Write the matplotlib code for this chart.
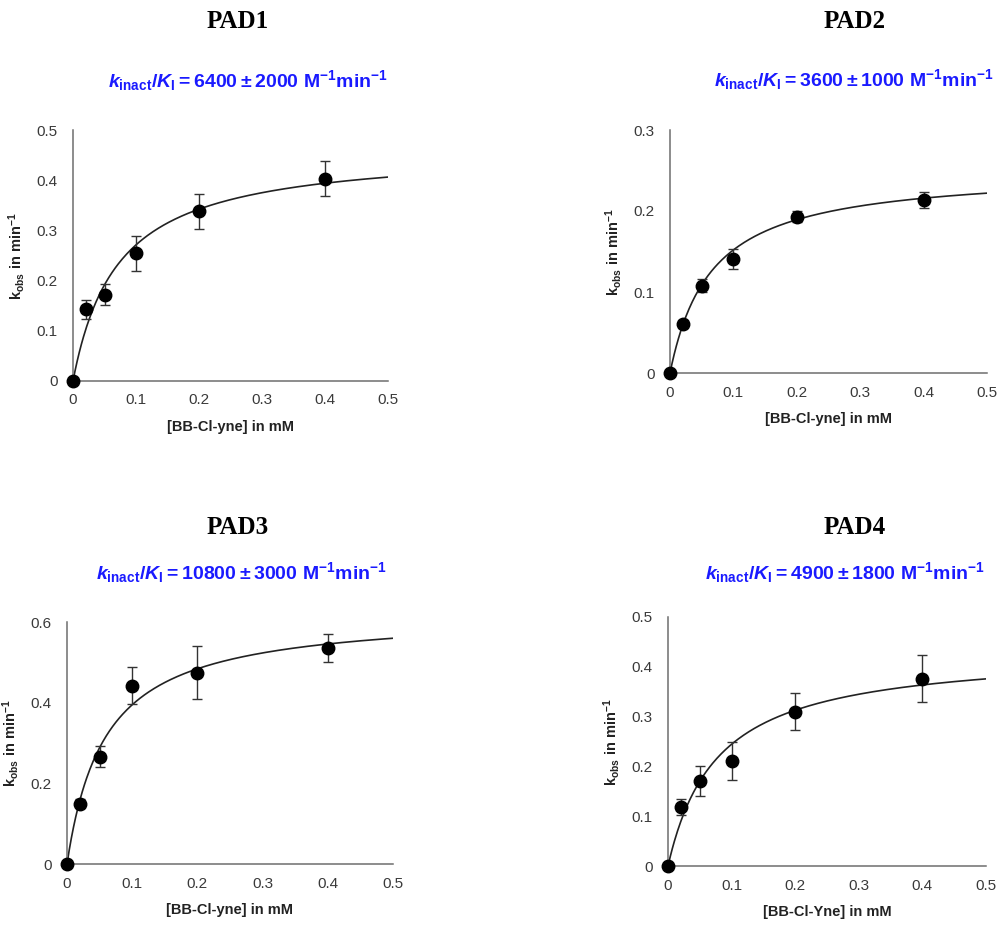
import numpy as np
import matplotlib

matplotlib.use("Agg")
import matplotlib.pyplot as plt
from matplotlib.ticker import FuncFormatter

plt.rcParams["font.family"] = ["Liberation Sans", "DejaVu Sans"]
plt.rcParams["mathtext.fontset"] = "custom"
plt.rcParams["mathtext.rm"] = "Liberation Sans:bold"
plt.rcParams["mathtext.it"] = "Liberation Sans:bold:italic"
plt.rcParams["mathtext.bf"] = "Liberation Sans:bold"

# ── Data ──────────────────────────────────────────────────────────────────────

conc = [0, 0.02, 0.05, 0.1, 0.2, 0.4]  # mM

pad1_kobs = [0, 0.143, 0.172, 0.254, 0.338, 0.403]
pad1_err = [0, 0.019, 0.021, 0.035, 0.035, 0.035]
pad2_kobs = [0, 0.061, 0.108, 0.141, 0.193, 0.214]
pad2_err = [0, 0.005, 0.008, 0.012, 0.007, 0.010]
pad3_kobs = [0, 0.150, 0.266, 0.442, 0.474, 0.536]
pad3_err = [0, 0.010, 0.026, 0.046, 0.066, 0.034]
pad4_kobs = [0, 0.119, 0.171, 0.210, 0.310, 0.376]
pad4_err = [0, 0.016, 0.030, 0.038, 0.037, 0.047]

# fitted k_inact (min^-1) and K_I (mM) for the hyperbolic curve
fit_kinact = [0.464, 0.251, 0.625, 0.434]
fit_KI = [0.0711, 0.0652, 0.0583, 0.0775]

names = ["PAD1", "PAD2", "PAD3", "PAD4"]
ratios = ["6400 \\pm 2000", "3600 \\pm 1000", "10800 \\pm 3000", "4900 \\pm 1800"]
xlabels = ["[BB-Cl-yne] in mM", "[BB-Cl-yne] in mM", "[BB-Cl-yne] in mM",
           "[BB-Cl-Yne] in mM"]
ymax = [0.5, 0.3, 0.6, 0.5]
ystep = [0.1, 0.1, 0.2, 0.1]

kobs = [pad1_kobs, pad2_kobs, pad3_kobs, pad4_kobs]
errs = [pad1_err, pad2_err, pad3_err, pad4_err]

# ── Layout in pixels (left, top, right, bottom) ───────────────────────────────
W, H = 1001, 933
ax_px = [(73, 130, 388, 381), (670, 130, 987, 373),
         (67, 622, 393, 864), (668, 617, 986, 866)]
name_px = [(238, 22), (855, 22), (238, 527), (855, 527)]
ratio_px = [(248, 81), (854, 80), (241, 573), (845, 573)]

BLUE = "#1a1aff"
GRAY = "#6e6e6e"

fig = plt.figure(figsize=(W / 100, H / 100), dpi=100)

for i in range(4):
    l, t, r, b = ax_px[i]
    ax = fig.add_axes([l / W, 1 - b / H, (r - l) / W, (b - t) / H])
    h_px = b - t
    w_px = r - l

    xs = np.linspace(0, 0.5, 300)
    ax.plot(xs, fit_kinact[i] * xs / (fit_KI[i] + xs), color="#222222", lw=1.2)
    ax.errorbar(conc, kobs[i], yerr=errs[i], fmt="o", color="black",
                ms=9, ecolor="#333333", elinewidth=1.0, capsize=3.8,
                capthick=1.0, clip_on=False, zorder=3)

    ax.set_xlim(0, 0.5)
    ax.set_ylim(0, ymax[i])
    ax.set_xticks(np.arange(0, 0.51, 0.1))
    ax.set_yticks(np.arange(0, ymax[i] + 1e-9, ystep[i]))
    fmt = FuncFormatter(lambda v, p: "0" if abs(v) < 1e-9 else f"{v:g}")
    ax.xaxis.set_major_formatter(fmt)
    ax.yaxis.set_major_formatter(fmt)
    ax.tick_params(length=0, labelsize=11, colors="#3a3a3a")
    ax.tick_params(axis="x", pad=9)
    ax.tick_params(axis="y", pad=11)
    for s in ["top", "right"]:
        ax.spines[s].set_visible(False)
    for s in ["left", "bottom"]:
        ax.spines[s].set_color(GRAY)
        ax.spines[s].set_linewidth(1.1)

    ax.text(0.5, -46 / h_px, xlabels[i], transform=ax.transAxes,
            ha="center", va="center", fontsize=10.5, fontweight="bold",
            color="#222222")
    ax.text(-56 / w_px, 0.5, r"$\mathrm{k}_{\mathrm{obs}}\ \mathrm{in\ min}^{-1}$",
            transform=ax.transAxes, rotation=90, ha="center", va="center",
            fontsize=10.5, color="#222222")

    nx, ny = name_px[i]
    fig.text(nx / W, 1 - ny / H, names[i], ha="center", va="center",
             fontsize=18, fontweight="bold", family="Liberation Serif")
    rx, ry = ratio_px[i]
    fig.text(rx / W, 1 - ry / H,
             r"$\mathit{k}_{\mathrm{inact}}/\mathit{K}_{\mathrm{I}} = "
             + ratios[i] + r"\ \mathrm{M}^{-1}\mathrm{min}^{-1}$",
             ha="center", va="center", fontsize=14, color=BLUE)

fig.savefig("out.png", dpi=100)
